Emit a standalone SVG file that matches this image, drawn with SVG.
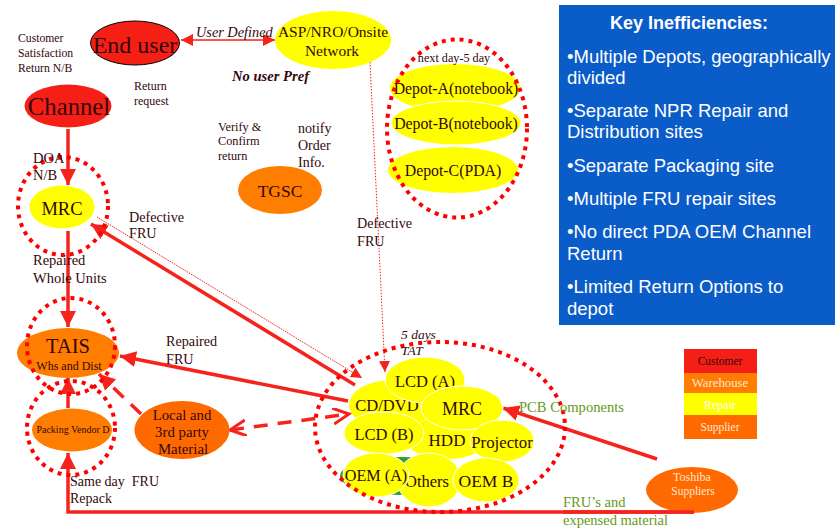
<svg xmlns="http://www.w3.org/2000/svg" width="835" height="529" viewBox="0 0 835 529">
<style>
text{font-family:"Liberation Serif","Times New Roman",serif;fill:#33080c;text-anchor:middle}
.l{text-anchor:start}
.dot{fill:none;stroke:#f00;stroke-width:4;stroke-dasharray:4 5}
.y{fill:#ff0;stroke:#fff;stroke-width:1}
.o{fill:#ff7d00}
.o2{fill:#ff6a00}
.r{fill:#f51f16}
.c{fill:none;stroke:#f5231c;stroke-width:3.5}
.key{font-family:"Liberation Sans",Arial,sans-serif;font-size:18.5px;fill:#fff;text-anchor:start}
.w{fill:#ffe6d0}
</style>
<defs>
<marker id="a" markerUnits="userSpaceOnUse" markerWidth="20" markerHeight="18" refX="16" refY="8" orient="auto"><path d="M0 0L16 8L0 16Z" fill="#f5231c"/></marker>
<marker id="s" markerUnits="userSpaceOnUse" markerWidth="14" markerHeight="14" refX="12" refY="6" orient="auto-start-reverse"><path d="M0 0L12 6L0 12Z" fill="#f5231c"/></marker>
<marker id="d" markerUnits="userSpaceOnUse" markerWidth="14" markerHeight="14" refX="11" refY="5.500" orient="auto"><path d="M0 0L11 5.500L0 11Z" fill="#f5231c"/></marker>
<marker id="v" markerUnits="userSpaceOnUse" markerWidth="20" markerHeight="18" refX="16" refY="8" orient="auto-start-reverse"><path d="M0 0L16 8L0 16" fill="none" stroke="#f5231c" stroke-width="3"/></marker>
</defs>

<g id="key-panel">
<rect x="559" y="5" width="276" height="320" fill="#0a5cc8"/>
<text x="689" y="29" style="font-family:'Liberation Sans',Arial,sans-serif;font-size:18px;font-weight:bold;fill:#fff">Key Inefficiencies:</text>
<text class="key" x="567" y="63">•Multiple Depots, geographically</text>
<text class="key" x="567" y="84">divided</text>
<text class="key" x="567" y="117">•Separate NPR Repair and</text>
<text class="key" x="567" y="138">Distribution sites</text>
<text class="key" x="567" y="172">•Separate Packaging site</text>
<text class="key" x="567" y="205">•Multiple FRU repair sites</text>
<text class="key" x="567" y="238">•No direct PDA OEM Channel</text>
<text class="key" x="567" y="260">Return</text>
<text class="key" x="567" y="293">•Limited Return Options to</text>
<text class="key" x="567" y="315">depot</text>
</g>

<g id="legend">
<rect x="684" y="349" width="73" height="24" class="r"/>
<rect x="684" y="373" width="73" height="20" class="o"/>
<rect x="684" y="393" width="73" height="22" fill="#ff0"/>
<rect x="684" y="415" width="73" height="24" class="o2"/>
<text x="720" y="365" font-size="11.500">Customer</text>
<text x="720" y="387" font-size="12.800" class="w">Warehouse</text>
<text x="720" y="409" font-size="12" style="fill:#fff">Repair</text>
<text x="720" y="431" font-size="11.500" class="w">Supplier</text>
</g>

<g id="connectors">
<line x1="181" y1="40" x2="275" y2="40" stroke="#f5231c" stroke-width="1.500" marker-start="url(#s)" marker-end="url(#s)"/>
<line x1="68" y1="129" x2="68" y2="185" class="c" marker-end="url(#a)"/>
<line x1="68" y1="231" x2="68" y2="327" class="c" marker-end="url(#a)"/>
<line x1="68" y1="408" x2="68" y2="378" class="c" marker-end="url(#a)"/>
<polyline points="694,512 68,512 68,453" class="c" marker-end="url(#a)"/>
<line x1="355" y1="385" x2="91" y2="224" class="c" marker-end="url(#a)"/>
<line x1="348" y1="401" x2="120" y2="356" class="c" marker-end="url(#a)"/>
<line x1="97" y1="217" x2="362" y2="378" stroke="#f5231c" stroke-width="1" stroke-dasharray="1.500 1" marker-end="url(#d)"/>
<line x1="370" y1="62" x2="385" y2="372" stroke="#f5231c" stroke-width="1" stroke-dasharray="1.500 1.500" marker-end="url(#d)"/>
<line x1="141" y1="414" x2="99" y2="374" class="c" stroke-dasharray="14 10" marker-end="url(#a)"/>
<line x1="230" y1="430" x2="349" y2="414" class="c" stroke-dasharray="14 10" marker-start="url(#v)" marker-end="url(#v)"/>
<line x1="657" y1="459" x2="503" y2="408" class="c" marker-end="url(#a)"/>
</g>

<g id="end-user"><ellipse cx="135" cy="43" rx="44.500" ry="22" class="r" stroke="#000"/><text x="135" y="53" font-size="24">End user</text></g>
<g id="channel"><ellipse cx="68" cy="106" rx="43.500" ry="21.500" class="r"/><text x="69" y="115" font-size="24.700">Channel</text></g>
<g id="asp"><ellipse cx="333" cy="40" rx="58" ry="29" fill="#ff0"/><text x="333" y="37" font-size="15.500">ASP/NRO/Onsite</text><text x="332" y="56" font-size="15.500">Network</text></g>
<g id="tgsc"><ellipse cx="280" cy="190" rx="42" ry="24" class="o"/><text x="280" y="197" font-size="17.500">TGSC</text></g>
<g id="mrc-left"><ellipse cx="62" cy="207" rx="32.500" ry="21.500" fill="#ff0"/><text x="62" y="215" font-size="18.500">MRC</text></g>
<ellipse cx="63" cy="206" rx="45" ry="49" class="dot"/>
<g id="tais"><ellipse cx="68" cy="353" rx="51" ry="25" class="o"/><text x="68" y="353" font-size="20.500">TAIS</text><text x="69" y="370" font-size="12">Whs and Dist</text></g>
<ellipse cx="71" cy="346" rx="44" ry="48" class="dot"/>
<g id="packing"><ellipse cx="72" cy="430" rx="40" ry="21.500" class="o"/><text x="73" y="433" font-size="10">Packing Vendor D</text></g>
<ellipse cx="71" cy="428" rx="44" ry="47" class="dot"/>
<g id="local"><ellipse cx="182" cy="430" rx="47.500" ry="29" class="o2"/><text x="182" y="420" font-size="14.800">Local and</text><text x="182" y="437" font-size="14.800">3rd party</text><text x="183" y="454" font-size="14.800">Material</text></g>

<g id="depot-a"><ellipse cx="455" cy="88" rx="65" ry="24" fill="#ff0"/><text x="456" y="94" font-size="15.800">Depot-A(notebook)</text></g>
<g id="depot-b"><ellipse cx="456" cy="123" rx="65" ry="22" class="y"/><text x="456" y="129" font-size="15.800">Depot-B(notebook)</text></g>
<g id="depot-c"><ellipse cx="453" cy="170" rx="65" ry="23" fill="#ff0"/><text x="453" y="176" font-size="15.800">Depot-C(PDA)</text></g>
<ellipse cx="457" cy="128.500" rx="70" ry="89" class="dot"/>

<g id="fru-group">
<ellipse cx="400" cy="476" rx="60" ry="19" fill="#2e9e2e"/>
<g id="hdd"><ellipse cx="447" cy="438" rx="42" ry="21" fill="#ff0"/><text x="447" y="446" font-size="17">HDD</text></g>
<g id="cd-dvd"><ellipse cx="391" cy="405" rx="42" ry="25" fill="#ff0"/><text x="387" y="411" font-size="16.500">CD/DVD</text></g>
<g id="lcd-a"><ellipse cx="425" cy="380" rx="40" ry="23" class="y"/><text x="425" y="387" font-size="16.500">LCD (A)</text></g>
<g id="mrc-right"><ellipse cx="462" cy="408" rx="41" ry="22" class="y"/><text x="462" y="415" font-size="18">MRC</text></g>
<g id="lcd-b"><ellipse cx="384" cy="433" rx="40" ry="21" class="y"/><text x="384" y="440" font-size="16.500">LCD (B)</text></g>
<g id="projector"><ellipse cx="502" cy="441" rx="32" ry="21" class="y"/><text x="502" y="448" font-size="16.800">Projector</text></g>
<g id="others"><ellipse cx="429" cy="480" rx="32" ry="27" class="y"/><text x="427" y="487" font-size="16.500">Others</text></g>
<g id="oem-a"><ellipse cx="376" cy="475" rx="33" ry="22" class="y"/><text x="376" y="481" font-size="16.200">OEM (A)</text></g>
<g id="oem-b"><ellipse cx="486" cy="480" rx="33" ry="22" class="y"/><text x="486" y="487" font-size="17.500">OEM B</text></g>
</g>
<ellipse cx="440" cy="427" rx="125" ry="85" class="dot"/>

<g id="toshiba"><ellipse cx="692" cy="490" rx="46" ry="23" class="o2"/><text x="692" y="481" font-size="12" class="w">Toshiba</text><text x="693" y="495" font-size="11.500" class="w">Suppliers</text></g>
<line x1="563" y1="512" x2="694" y2="512" stroke="#f5231c" stroke-width="3.500"/>

<g id="labels">
<text class="l" x="18" y="42" font-size="11.700">Customer</text>
<text class="l" x="18" y="57" font-size="11.700">Satisfaction</text>
<text class="l" x="18" y="72" font-size="11.700">Return N/B</text>
<text class="l" x="134" y="90" font-size="12">Return</text>
<text class="l" x="134" y="105" font-size="12">request</text>
<text class="l" x="196" y="37" font-size="14.300" font-style="italic">User Defined</text>
<text class="l" x="232" y="81" font-size="14.600" font-style="italic" font-weight="bold">No user Pref</text>
<text class="l" x="218" y="131" font-size="12.300">Verify &amp;</text>
<text class="l" x="218" y="145" font-size="12.300">Confirm</text>
<text class="l" x="218" y="160" font-size="12.300">return</text>
<text class="l" x="298" y="133" font-size="14">notify</text>
<text class="l" x="298" y="150" font-size="14">Order</text>
<text class="l" x="298" y="167" font-size="14">Info.</text>
<text x="454" y="62" font-size="12.200">next day-5 day</text>
<text class="l" x="33" y="163" font-size="14.500">DOA</text>
<text class="l" x="33" y="180" font-size="14.500">N/B</text>
<text class="l" x="129" y="222" font-size="14.200">Defective</text>
<text class="l" x="129" y="238" font-size="14.200">FRU</text>
<text class="l" x="357" y="228" font-size="14.200">Defective</text>
<text class="l" x="357" y="246" font-size="14.200">FRU</text>
<text class="l" x="33" y="265" font-size="14.500">Repaired</text>
<text class="l" x="33" y="283" font-size="14.500">Whole Units</text>
<text class="l" x="166" y="346" font-size="14.200">Repaired</text>
<text class="l" x="166" y="364" font-size="14.200">FRU</text>
<text class="l" x="401" y="339" font-size="13.500" font-style="italic">5 days</text>
<text class="l" x="401" y="355" font-size="13.500" font-style="italic">TAT</text>
<text class="l" x="70" y="486" font-size="14" xml:space="preserve">Same day  FRU</text>
<text class="l" x="70" y="503" font-size="14">Repack</text>
<text class="l" x="519" y="412" font-size="14.600" style="fill:#66991a">PCB Components</text>
<text class="l" x="563" y="507" font-size="14.500" style="fill:#66991a">FRU’s and</text>
<text class="l" x="563" y="525" font-size="14.500" style="fill:#66991a">expensed material</text>
</g>
</svg>
